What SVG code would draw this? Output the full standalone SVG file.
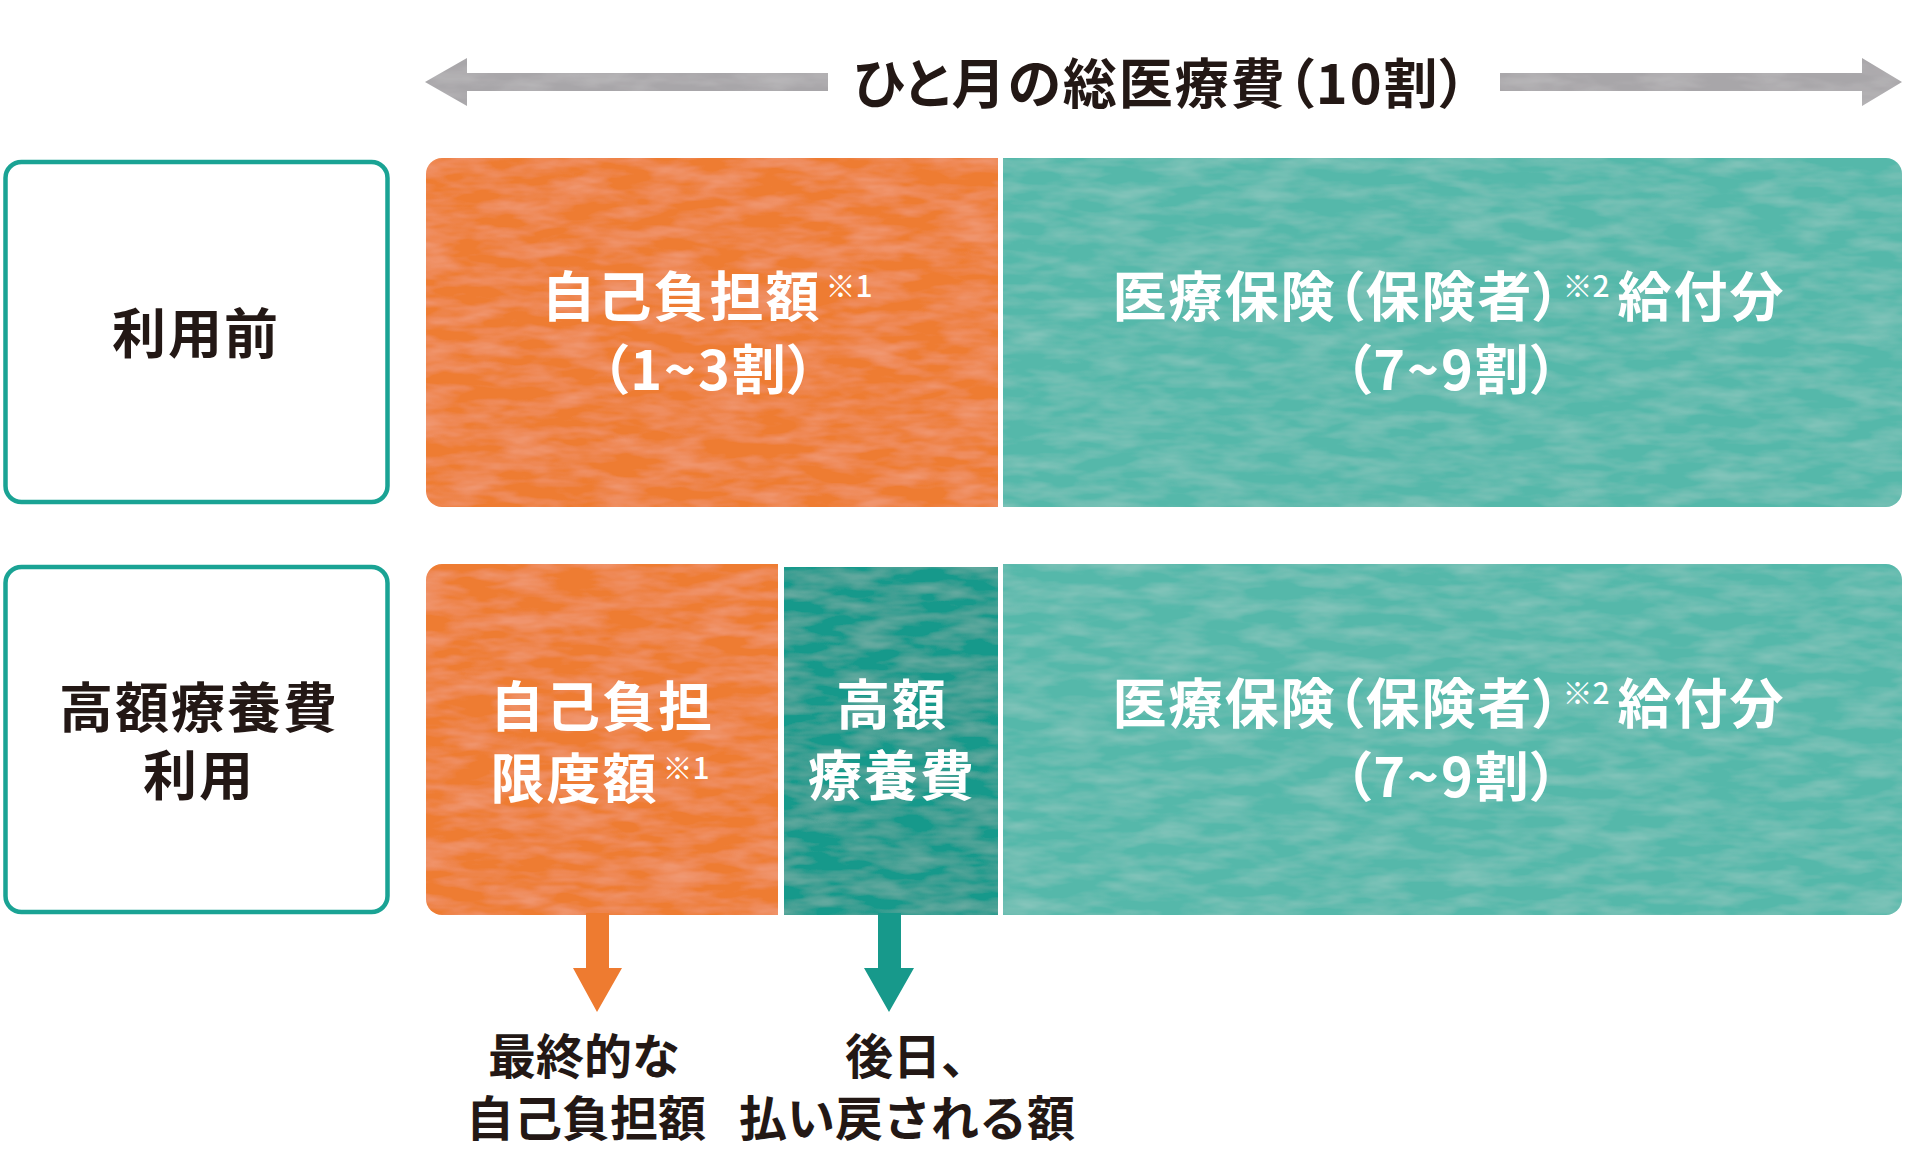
<svg xmlns="http://www.w3.org/2000/svg" width="1920" height="1160" viewBox="0 0 1920 1160">
<style>
text{font-family:"Noto Sans CJK JP","Noto Sans CJK SC",sans-serif;font-weight:700;text-anchor:middle;font-feature-settings:"palt"}
.dk{fill:#231815}
.wh{fill:#ffffff}
.t54{font-size:54px;letter-spacing:2px}
.t48{font-size:48px;font-feature-settings:normal}
.sup{font-size:30px;font-weight:500;letter-spacing:0}
.lab{fill:#ffffff;stroke:#1aa394;stroke-width:4.5}
.or{fill:#ee7b30}
.tl{fill:#55b8aa}
.td{fill:#17998b}
.gr{fill:#a8a6a9}
.tex{filter:url(#tex)}
</style>
<defs>
<filter id="tex" x="0" y="0" width="100%" height="100%">
<feTurbulence type="fractalNoise" baseFrequency="0.02 0.07" numOctaves="3" seed="7" result="n"/>
<feColorMatrix in="n" type="matrix" values="0 0 0 0 1  0 0 0 0 1  0 0 0 0 1  0.28 0 0 0 -0.1" result="w"/>
<feComposite in="w" in2="SourceGraphic" operator="in" result="wm"/>
<feMerge><feMergeNode in="SourceGraphic"/><feMergeNode in="wm"/></feMerge>
</filter>
</defs>
<rect width="1920" height="1160" fill="#ffffff"/>
<g id="header">
<path class="gr tex" d="M425,82 L467,58 L467,73 L828,73 L828,91 L467,91 L467,106 Z"/>
<path class="gr tex" d="M1902,82 L1862,58 L1862,73 L1500,73 L1500,91 L1862,91 L1862,106 Z"/>
<text class="dk t54" x="1161" y="104">ひと月の総医療費（10割）</text>
</g>
<g id="label-before">
<rect class="lab" x="5.5" y="162" width="382" height="340" rx="16"/>
<text class="dk t54" x="196" y="354">利用前</text>
</g>
<g id="label-after">
<rect class="lab" x="5.5" y="567" width="382" height="345" rx="16"/>
<text class="dk t54"><tspan x="199" y="728">高額療養費</tspan><tspan x="199" y="796">利用</tspan></text>
</g>
<g id="self-pay">
<path class="or tex" d="M442,158 H998 V507 H442 A16,16 0 0 1 426,491 V174 A16,16 0 0 1 442,158 Z"/>
<text class="wh t54"><tspan x="707" y="317">自己負担額<tspan class="sup" dx="4" dy="-20">※1</tspan></tspan><tspan x="709" y="390">（1~3割）</tspan></text>
</g>
<g id="insurance-1">
<path class="tl tex" d="M1003,158 H1886 A16,16 0 0 1 1902,174 V491 A16,16 0 0 1 1886,507 H1003 Z"/>
<text class="wh t54"><tspan x="1449" y="317">医療保険（保険者）<tspan class="sup" dy="-20">※2</tspan><tspan dx="8" dy="20">給付分</tspan></tspan><tspan x="1452" y="390">（7~9割）</tspan></text>
</g>
<g id="limit">
<path class="or tex" d="M442,564 H778 V915 H442 A16,16 0 0 1 426,899 V580 A16,16 0 0 1 442,564 Z"/>
<text class="wh t54"><tspan x="602" y="727">自己負担</tspan><tspan x="600" y="799">限度額<tspan class="sup" dx="4" dy="-20">※1</tspan></tspan></text>
</g>
<g id="high-cost">
<rect class="td tex" x="784" y="567" width="214" height="348"/>
<text class="wh t54"><tspan x="892" y="725">高額</tspan><tspan x="892" y="796">療養費</tspan></text>
</g>
<g id="insurance-2">
<path class="tl tex" d="M1003,564 H1886 A16,16 0 0 1 1902,580 V899 A16,16 0 0 1 1886,915 H1003 Z"/>
<text class="wh t54"><tspan x="1449" y="724">医療保険（保険者）<tspan class="sup" dy="-20">※2</tspan><tspan dx="8" dy="20">給付分</tspan></tspan><tspan x="1452" y="797">（7~9割）</tspan></text>
</g>
<g id="connectors">
<path class="or" d="M586,913 H609 V968 H622 L597,1012 L573,968 H586 Z"/>
<path class="td" d="M878,913 H901 V968 H914 L889,1012 L864,968 H878 Z"/>
</g>
<g id="result-self">
<text class="dk t48"><tspan x="584" y="1074">最終的な</tspan><tspan x="586" y="1136">自己負担額</tspan></text>
</g>
<g id="result-refund">
<text class="dk t48"><tspan x="917" y="1074">後日、</tspan><tspan x="907" y="1136">払い戻される額</tspan></text>
</g>
</svg>
